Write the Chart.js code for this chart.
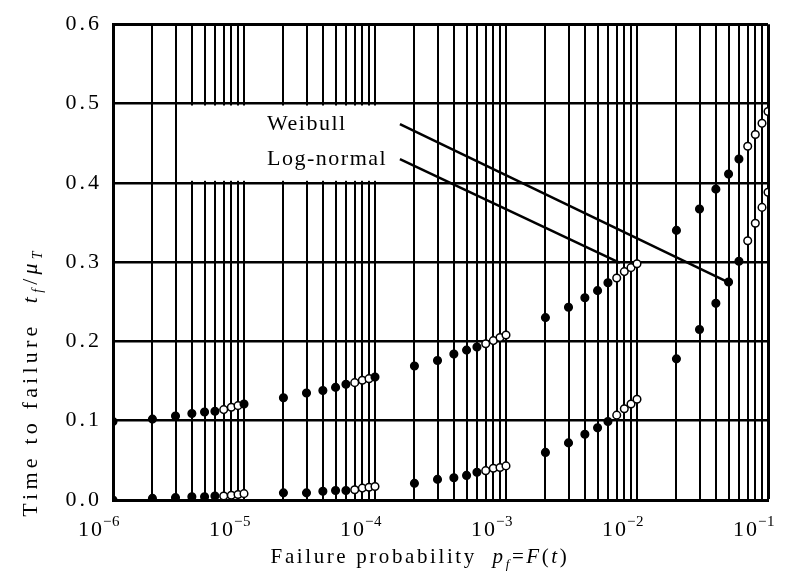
<!DOCTYPE html>
<html><head><meta charset="utf-8">
<script src="https://cdn.jsdelivr.net/npm/chart.js@4/dist/chart.umd.min.js"></script>
<style>html,body{margin:0;padding:0;background:#fff}#wrap{width:791px;height:579px}</style>
</head><body><div id="wrap"><canvas id="c" width="791" height="579"></canvas></div>
<script>
// ---- data ----
const failureProbability = [
  1e-6, 2e-6, 3e-6, 4e-6, 5e-6, 6e-6, 7e-6, 8e-6, 9e-6, 1e-5,
  2e-5, 3e-5, 4e-5, 5e-5, 6e-5, 7e-5, 8e-5, 9e-5, 1e-4,
  2e-4, 3e-4, 4e-4, 5e-4, 6e-4, 7e-4, 8e-4, 9e-4, 1e-3,
  2e-3, 3e-3, 4e-3, 5e-3, 6e-3, 7e-3, 8e-3, 9e-3, 1e-2,
  2e-2, 3e-2, 4e-2, 5e-2, 6e-2, 7e-2, 8e-2, 9e-2, 1e-1
];
const upperTime = [
  0.099, 0.102, 0.106, 0.109, 0.111, 0.112, 0.114, 0.117, 0.119, 0.121,
  0.129, 0.135, 0.138, 0.142, 0.146, 0.148, 0.151, 0.153, 0.155,
  0.169, 0.176, 0.184, 0.189, 0.193, 0.197, 0.201, 0.205, 0.208,
  0.230, 0.243, 0.255, 0.264, 0.274, 0.280, 0.288, 0.293, 0.298,
  0.340, 0.367, 0.392, 0.411, 0.430, 0.446, 0.461, 0.475, 0.490
];
const lowerTime = [
  0.000, 0.002, 0.003, 0.004, 0.004, 0.005, 0.005, 0.006, 0.007, 0.008,
  0.009, 0.009, 0.011, 0.012, 0.012, 0.013, 0.015, 0.016, 0.017,
  0.021, 0.026, 0.028, 0.031, 0.035, 0.037, 0.040, 0.041, 0.043,
  0.060, 0.072, 0.083, 0.091, 0.099, 0.107, 0.115, 0.121, 0.127,
  0.178, 0.215, 0.248, 0.275, 0.301, 0.327, 0.349, 0.369, 0.388
];
const decades = [1e-6, 1e-5, 1e-4, 1e-3, 1e-2, 1e-1];
const gridMultipliers = [1, 2, 3, 4, 5, 6, 7, 8, 9];
const yTicks = [0, 0.1, 0.2, 0.3, 0.4, 0.5, 0.6];
const weibullPointer = [[1.55e-4, 0.474], [4.9e-2, 0.275]];
const lognormalPointer = [[1.55e-4, 0.430], [7.4e-3, 0.299]];
const annotationLabels = ['Weibull', 'Log-normal'];
const labelAnchorX = 1.5e-5;
const labelBox = [[3.5e-6, 0.4], [1.8e-4, 0.5]];

// ---- helpers ----
const SERIF = "'Liberation Serif', 'DejaVu Serif', serif";
const supMap = {'-': '\u207B', '0': '\u2070', '1': '\u00B9', '2': '\u00B2', '3': '\u00B3',
  '4': '\u2074', '5': '\u2075', '6': '\u2076', '7': '\u2077', '8': '\u2078', '9': '\u2079'};
const unsupMap = Object.fromEntries(Object.entries(supMap).map(([k, v]) => [v, k === '-' ? '\u2212' : k]));
function sup(n) { return String(n).split('').map(c => supMap[c] || c).join(''); }
function mantissa(v) { return Math.round(v / Math.pow(10, Math.floor(Math.log10(v) + 1e-9))); }
const gridValues = decades.slice(0, -1).flatMap(d => gridMultipliers.map(m => m * d)).concat([decades[decades.length - 1]]);
function toXY(arrX, arrY) { return arrX.map((x, i) => ({x, y: arrY[i]})); }
function hollow(ctx, lower) {
  const p = ctx.raw; if (!p) return false;
  const m = mantissa(p.x);
  if (m >= 7) return true;
  if (m === 1 && p.x > 1.5e-6 && (lower || p.x >= 9e-4)) return true;
  return false;
}

function drawRuns(ctx, runs, size, cx, cy, spacing) {
  ctx.letterSpacing = spacing + 'px';
  const subSize = Math.round(size * 0.62);
  let total = 0;
  const parts = runs.map(r => {
    const fs = r.sub ? subSize : size;
    const font = (r.italic ? 'italic ' : '') + fs + 'px ' + SERIF;
    ctx.font = font;
    const w = ctx.measureText(r.t).width;
    total += w;
    return {r, font, w};
  });
  let x = cx - total / 2;
  ctx.textAlign = 'left';
  ctx.textBaseline = 'alphabetic';
  parts.forEach(p => {
    ctx.font = p.font;
    ctx.fillText(p.r.t, x, cy + (p.r.sub ? size * 0.22 : 0));
    x += p.w;
  });
  ctx.letterSpacing = '0px';
}

// y tick labels: library labels, drawn with the wide letter spacing of the original
function yLabelsWithSpacing(s) {
  if (s._wrapped) return;
  s._wrapped = true;
  const orig = s.drawLabels.bind(s);
  s.drawLabels = function (area) {
    const c = this.ctx; c.save(); c.letterSpacing = '3px'; orig(area); c.restore();
  };
}
// x tick labels: base "10" with a raised exponent, placed at the library's tick pixels
function xLabelsSuperscript(s) {
  if (s._wrapped) return;
  s._wrapped = true;
  s.drawLabels = function () {
    const c = this.ctx;
    c.save();
    c.fillStyle = '#000';
    const base = this.bottom - 79 + 36;
    this.ticks.forEach((t, i) => {
      const lbl = t.label;
      if (!lbl) return;
      const X = this.getPixelForTick(i);
      const head = lbl.replace(/[\u207B\u2070\u00B9\u00B2\u00B3\u2074-\u2079]/g, '');
      const exp = lbl.slice(head.length).split('').map(ch => unsupMap[ch] || ch).join('');
      c.letterSpacing = '2px';
      c.font = '22px ' + SERIF;
      c.textAlign = 'right'; c.textBaseline = 'alphabetic';
      c.fillText(head, X - 9, base);
      c.letterSpacing = '0.5px';
      c.font = '15px ' + SERIF;
      c.textAlign = 'left';
      c.fillText(exp, X - 10, base - 10);
    });
    c.restore();
  };
}

const decorPlugin = {
  id: 'decor',
  beforeDraw(chart) {
    const c = chart.ctx; c.save(); c.fillStyle = '#fff';
    c.fillRect(0, 0, chart.width, chart.height); c.restore();
  },
  beforeDatasetsDraw(chart) {
    const c = chart.ctx, xs = chart.scales.x, ys = chart.scales.y;
    c.save();
    c.fillStyle = '#fff';
    const x0 = xs.getPixelForValue(labelBox[0][0]), x1 = xs.getPixelForValue(labelBox[1][0]);
    const y0 = ys.getPixelForValue(labelBox[1][1]) + 2, y1 = ys.getPixelForValue(labelBox[0][1]) - 2;
    c.fillRect(x0, y0, x1 - x0, y1 - y0);
    c.fillStyle = '#000';
    c.letterSpacing = '1.5px';
    c.font = '22px ' + SERIF;
    c.textAlign = 'left'; c.textBaseline = 'middle';
    const lx = xs.getPixelForValue(labelAnchorX);
    c.fillText(annotationLabels[0], lx, ys.getPixelForValue(weibullPointer[0][1]));
    c.fillText(annotationLabels[1], lx, ys.getPixelForValue(lognormalPointer[0][1]));
    c.restore();
  },
  afterDraw(chart) {
    const c = chart.ctx;
    c.save(); c.fillStyle = '#000';
    drawRuns(c, [
      {t: 'Failure probability  '}, {t: 'p', italic: true}, {t: 'f', italic: true, sub: true},
      {t: '='}, {t: 'F', italic: true}, {t: '('}, {t: 't', italic: true}, {t: ')'}
    ], 21, 420, 563, 2.6);
    c.translate(30, 382); c.rotate(-Math.PI / 2);
    drawRuns(c, [
      {t: 'Time to failure  '}, {t: 't', italic: true}, {t: 'f', italic: true, sub: true},
      {t: '/'}, {t: '\u03BC', italic: true}, {t: 'T', italic: true, sub: true}
    ], 22, 0, 7, 4.2);
    c.restore();
  }
};

new Chart(document.getElementById('c'), {
  type: 'scatter',
  data: {
    datasets: [
      {
        label: 'upper', data: toXY(failureProbability, upperTime), showLine: false,
        pointStyle: 'circle', pointRadius: 3.8, pointHoverRadius: 3.8, pointBorderWidth: 1.5,
        pointBorderColor: '#000',
        pointBackgroundColor: ctx => hollow(ctx, false) ? '#fff' : '#000', clip: 0
      },
      {
        label: 'lower', data: toXY(failureProbability, lowerTime), showLine: false,
        pointStyle: 'circle', pointRadius: 3.8, pointHoverRadius: 3.8, pointBorderWidth: 1.5,
        pointBorderColor: '#000',
        pointBackgroundColor: ctx => hollow(ctx, true) ? '#fff' : '#000', clip: 0
      },
      {
        label: 'Weibull', data: weibullPointer.map(([x, y]) => ({x, y})), showLine: true,
        borderColor: '#000', borderWidth: 2.5, pointRadius: 0, fill: false
      },
      {
        label: 'Log-normal', data: lognormalPointer.map(([x, y]) => ({x, y})), showLine: true,
        borderColor: '#000', borderWidth: 2.5, pointRadius: 0, fill: false
      }
    ]
  },
  options: {
    responsive: false, animation: false, devicePixelRatio: 1,
    layout: {padding: {top: 15, right: 23, left: 0, bottom: 0}},
    plugins: {legend: {display: false}, tooltip: {enabled: false}},
    events: [],
    scales: {
      x: {
        type: 'logarithmic', min: decades[0], max: decades[decades.length - 1],
        afterBuildTicks: s => { s.ticks = gridValues.map(v => ({value: v})); },
        afterFit: s => { s.height = 79; },
        afterUpdate: xLabelsSuperscript,
        grid: {color: '#000', lineWidth: ctx => (ctx.tick && Math.abs(ctx.tick.value - 0.1) < 1e-9) ? 3 : 2, drawTicks: false},
        border: {color: '#000', width: 3},
        ticks: {
          autoSkip: false, maxRotation: 0, minRotation: 0, padding: 12,
          color: '#000', font: {family: SERIF, size: 12},
          callback: v => { const e = Math.log10(v); return Math.abs(e - Math.round(e)) < 1e-6 ? '10' + sup(Math.round(e)) : ''; }
        }
      },
      y: {
        min: 0, max: 0.6,
        afterBuildTicks: s => { s.ticks = yTicks.map(v => ({value: v})); },
        afterFit: s => { s.width = 113; },
        afterUpdate: yLabelsWithSpacing,
        grid: {color: '#000', lineWidth: ctx => (ctx.tick && ctx.tick.value === 0.6) ? 3 : 2.5, drawTicks: false},
        border: {color: '#000', width: 3},
        ticks: {
          padding: 11, color: '#000', font: {family: SERIF, size: 22},
          callback: v => Number(v).toFixed(1)
        }
      }
    }
  },
  plugins: [decorPlugin]
});
</script>
</body></html>
